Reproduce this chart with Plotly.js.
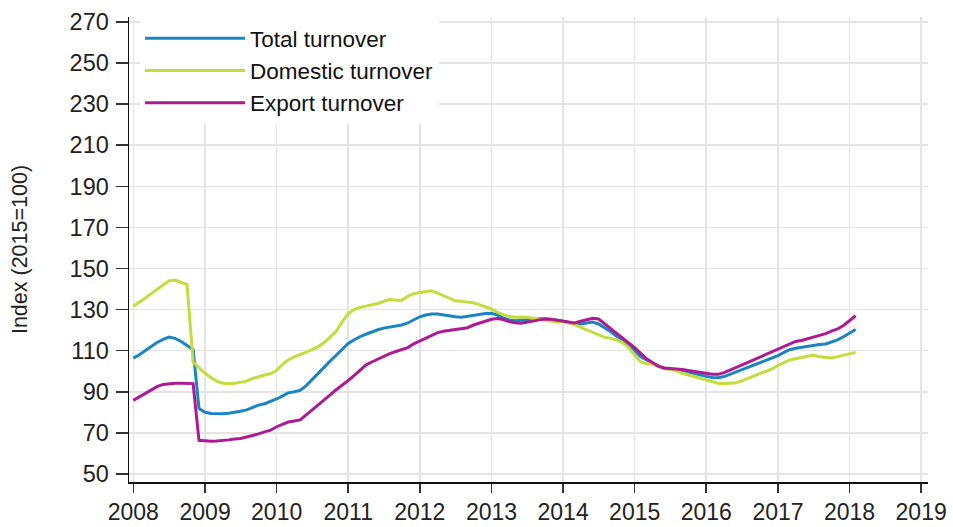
<!DOCTYPE html>
<html>
<head>
<meta charset="utf-8">
<script src="https://cdn.plot.ly/plotly-3.0.1.min.js"></script>
<style>
  html, body { margin: 0; padding: 0; background: #fff; }
  #chart { width: 953px; height: 527px; }
</style>
</head>
<body>
<div id="chart"></div>
<script>
// Monthly index values, January 2008 – February 2018 (2015=100)
const startYear = 2008;
const startMonth = 1;

const seriesNames = ["Total turnover", "Domestic turnover", "Export turnover"];

const totalTurnover = [
  106.4,108,110,112,114,115.5,116.6,116,114.5,112.5,110.5,81.8,
  80,79.4,79.2,79.3,79.6,80,80.5,81.2,82.5,83.5,84.2,85.2,
  86.5,88,89.5,90,90.7,93,95.8,99,102,105,108,111,
  113.5,115.3,116.8,118,119.2,120.2,121,121.6,122,122.5,123.5,125,
  126.5,127.4,127.8,127.8,127.3,126.8,126.5,126.3,126.8,127.3,127.8,128.1,
  128.2,127.3,126,125,124.6,124.9,125.2,125.4,125.5,125.5,125.3,124.8,
  124.3,123.6,123,123,123.5,123.9,123,121.2,119.2,117,115.3,112.5,
  110,107,105.5,104,102.5,101.3,101,100.8,100.4,99.6,98.8,98.2,
  97.5,97,96.8,97.4,98.5,99.6,100.6,101.7,102.9,104,105.3,106.5,
  107.6,109.2,110.5,111.2,111.7,112.1,112.7,113,113.3,114.2,115.3,116.8,
  118.6,120.3
];

const domesticTurnover = [
  131.6,133.5,135.5,137.8,140,142,144,144.4,143.2,142.3,104.4,101.5,
  99,96.8,95.2,94.2,93.9,94.1,94.5,95.2,96.5,97.5,98.2,98.8,
  100.5,103.5,105.5,107,108,109.3,110.5,112,114,116.5,119.5,124,
  128,130,131,131.7,132.3,133,134,135,134.6,134.5,136.5,137.8,
  138.3,138.8,139.2,138,136.8,135.5,134.3,134,133.8,133.3,132.3,131.5,
  130.3,128.6,127.5,126.6,126.3,126.3,126.3,125.8,125.3,124.8,124.2,123.8,
  124.3,123.6,122.7,121.4,120.2,119,117.8,116.5,116,115.2,113.8,111.5,
  107.8,104.5,103.8,103.5,102.3,101.5,100.9,100.2,99,98.2,97.3,96.4,
  95.5,94.8,94.2,93.9,94,94.4,95.3,96.5,97.5,98.6,99.9,101.2,
  102.8,104.3,105.5,106.1,106.8,107.4,107.9,107,106.6,106.5,107.1,107.8,
  108.7,109.2
];

const exportTurnover = [
  85.8,87.5,89.3,91,92.5,93.6,94,94.2,94.2,94.1,94,66.4,
  66,65.9,66,66.2,66.6,67,67.3,68,68.7,69.5,70.5,71.3,
  73,74.3,75.3,75.8,76.3,78.8,81.3,83.8,86,88.5,91,93,
  95.5,98,100.5,103,104.5,106,107.5,108.6,109.6,110.4,111.5,113.3,
  114.8,115.9,117.5,118.8,119.5,120,120.3,120.7,121.2,122.5,123.4,124.4,
  125.3,125.7,125.2,124.2,123.6,123.4,123.8,124.4,125,125.4,125.3,124.8,
  124.3,123.8,123.5,124.3,125.2,125.8,125.4,123,120.5,118.2,116,113.8,
  111.5,108.6,106.2,104.3,102.5,101.6,101.4,101.1,100.8,100.4,99.9,99.5,
  99.1,98.5,98.5,99.3,100.5,101.8,103.1,104.3,105.8,107.2,108.4,109.5,
  110.8,112.1,113.5,114.5,115,115.8,116.4,117.3,118.3,119.5,120.6,122.3,
  124.5,127
];

const yTickValues = [50,70,90,110,130,150,170,190,210,230,250,270];
const xTickYears = [2008,2009,2010,2011,2012,2013,2014,2015,2016,2017,2018,2019];
const yAxisTitle = "Index (2015=100)";

// month dates for the x axis
const months = totalTurnover.map((_, i) => {
  const m0 = (startMonth - 1) + i;
  const y = startYear + Math.floor(m0 / 12);
  const m = (m0 % 12) + 1;
  return y + "-" + String(m).padStart(2, "0") + "-01";
});

const colors = ["#1b84c3", "#c4dc3c", "#ad1a91"];
const values = [totalTurnover, domesticTurnover, exportTurnover];

const traces = values.map((v, k) => ({
  type: "scatter",
  mode: "lines",
  name: seriesNames[k],
  x: months,
  y: v,
  line: { color: colors[k], width: 3 },
  hoverinfo: "x+y+name"
}));

const fontFam = "'Liberation Sans', Arial, sans-serif";

const layout = {
  width: 953,
  height: 527,
  margin: { l: 129, r: 25, t: 17, b: 45 },
  paper_bgcolor: "#fff",
  plot_bgcolor: "#fff",
  font: { family: fontFam, size: 23, color: "#222" },
  showlegend: true,
  legend: {
    x: 0.0138, y: 1.0, xanchor: "left", yanchor: "top",
    bgcolor: "#fff", borderwidth: 0,
    font: { family: fontFam, size: 22.5, color: "#111" },
    itemwidth: 100,
    tracegroupgap: 0
  },
  xaxis: {
    type: "date",
    range: ["2007-12-10", "2019-02-05"],
    tickvals: xTickYears.map(y => y + "-01-01"),
    ticktext: xTickYears.map(String),
    showgrid: true, gridcolor: "#e4e4e4", gridwidth: 1.5,
    showline: true, linecolor: "#111", linewidth: 1.5,
    ticks: "outside", ticklen: 9, tickwidth: 1.5, tickcolor: "#333",
    tickfont: { family: fontFam, size: 23, color: "#222" },
    zeroline: false, fixedrange: true
  },
  yaxis: {
    range: [46.1, 272.4],
    tickvals: yTickValues,
    showgrid: true, gridcolor: "#e4e4e4", gridwidth: 1.5,
    showline: true, linecolor: "#111", linewidth: 1.5,
    ticks: "outside", ticklen: 12, tickwidth: 1.5, tickcolor: "#333",
    ticklabelstandoff: 2,
    tickfont: { family: fontFam, size: 23.5, color: "#222" },
    zeroline: false, fixedrange: true,
    title: { text: yAxisTitle, font: { family: fontFam, size: 21.5, color: "#222" }, standoff: 36 }
  }
};

Plotly.newPlot("chart", traces, layout, { displayModeBar: false, staticPlot: true });
</script>
</body>
</html>
